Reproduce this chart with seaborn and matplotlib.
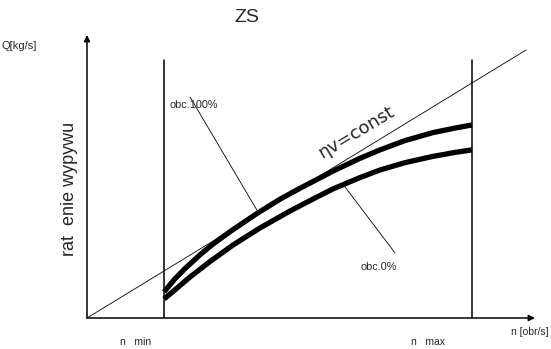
import numpy as np
import pandas as pd
import matplotlib
matplotlib.use("Agg")
import matplotlib.pyplot as plt
import seaborn as sns

# ---- data (n in relative units, Q in relative units) ----
n_upper = [17.2, 19.6, 21.9, 25.2, 28.1, 32.1, 37.9, 43.1, 47.5, 54.9,
           60.9, 65.4, 71.0, 77.2, 82.1, 85.9]
q_upper = [9.2, 13.8, 17.5, 22.3, 26.1, 30.7, 36.9, 42.0, 45.8, 51.9,
           56.4, 59.4, 62.7, 65.5, 67.1, 68.2]
n_lower = [17.2, 19.6, 23.0, 27.5, 32.6, 38.6, 45.3, 50.9, 54.9, 60.9,
           65.4, 71.0, 77.2, 82.1, 85.9]
q_lower = [6.7, 9.9, 14.5, 20.0, 25.8, 31.8, 37.8, 42.4, 45.6, 49.6,
           52.3, 54.9, 57.1, 58.5, 59.4]
n_eta = [0.0, 98.0]
q_eta = [0.0, 94.7]
n_min = 17.2
n_max = 85.9
limit_top = 91.2

df = pd.concat([
    pd.DataFrame({"n": n_upper, "Q": q_upper, "obc": "obc.100%"}),
    pd.DataFrame({"n": n_lower, "Q": q_lower, "obc": "obc.0%"}),
])

sns.set_theme(style="white")
plt.rcParams["font.family"] = ["Liberation Sans", "DejaVu Sans"]

W, H = 551, 349
fig = plt.figure(figsize=(W / 100, H / 100), dpi=100)
x0, y0, x1, y1 = 87, 318, 535, 35
ax = fig.add_axes([x0 / W, (H - y0) / H, (x1 - x0) / W, (y0 - y1) / H])
ax.set_xlim(0, 100)
ax.set_ylim(0, 100)
ax.set_axis_off()

sns.lineplot(data=df, x="n", y="Q", hue="obc", palette=["black", "black"],
             linewidth=3.8, legend=False, ax=ax, sort=True,
             estimator=None, solid_capstyle="butt", solid_joinstyle="round")
sns.lineplot(x=n_eta, y=q_eta, color="black", linewidth=0.6, ax=ax)
ax.lines[-1].set_clip_on(False)

for xv in (n_min, n_max):
    ax.plot([xv, xv], [0, limit_top], color="black", lw=1.1)

# axes with arrows
arrow = dict(arrowstyle="-|>", color="black", lw=1.1, mutation_scale=9,
             shrinkA=0, shrinkB=0)
ax.annotate("", xy=(100, 0), xytext=(0, 0), arrowprops=arrow, annotation_clip=False)
ax.annotate("", xy=(0, 100), xytext=(0, 0), arrowprops=arrow, annotation_clip=False)

# leader lines
ax.plot([23.0, 37.9], [78.1, 38.2], color="black", lw=0.6)
ax.plot([57.6, 68.75], [46.3, 23.0], color="black", lw=0.6)

def px(x, y):
    return x / W, 1 - y / H

fig.text(*px(247, 18), "ZS", fontsize=14, ha="center", va="center")
fig.text(*px(19, 46), "Q[kg/s]", fontsize=8, ha="center", va="center")
fig.text(*px(170, 105), "obc.100%", fontsize=7.8, ha="left", va="center")
fig.text(*px(379, 267), "obc.0%", fontsize=7.8, ha="center", va="center")
fig.text(*px(356, 132), "\u03b7v=const", fontsize=13, ha="center", va="center",
         rotation=31, rotation_mode="anchor", family=["DejaVu Sans"])
fig.text(*px(70, 189), "rat  enie wypywu", fontsize=13, ha="center", va="center",
         rotation=90)
fig.text(*px(136, 342), "n   min", fontsize=7.5, ha="center", va="center")
fig.text(*px(428, 342), "n   max", fontsize=7.5, ha="center", va="center")
fig.text(*px(530, 332), "n [obr/s]", fontsize=7.5, ha="center", va="center")

fig.savefig("out.png", dpi=100, facecolor="white")
